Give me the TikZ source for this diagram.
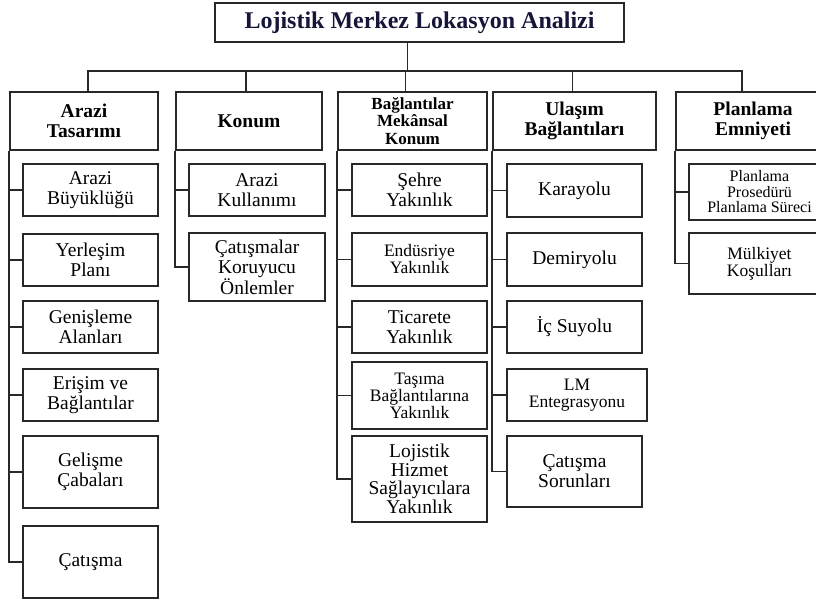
\documentclass[tikz,border=0pt]{standalone}
\usepackage{fontspec}
\setmainfont{Liberation Serif}
\usepackage{xcolor}
\usepackage{tikz}
\usetikzlibrary{calc}

\definecolor{titlenavy}{RGB}{22,22,58}
\definecolor{linegray}{RGB}{40,40,40}

\tikzset{
  titlebox/.style={draw=linegray, line width=1.6pt, inner sep=0pt, align=center,
    text=titlenavy, font=\fontsize{24}{26}\selectfont\bfseries},
  headbox/.style={draw=linegray, line width=1.6pt, inner sep=0pt, align=center,
    minimum height=58pt, font=\fontsize{19.5}{20}\selectfont\bfseries},
  itembox/.style={draw=linegray, line width=1.6pt, inner sep=0pt, align=center,
    minimum width=135pt, font=\fontsize{19.5}{20}\selectfont},
  smallitem/.style={itembox, font=\fontsize{17.5}{17}\selectfont},
  link/.style={draw=linegray, line width=1.5pt}
}

\begin{document}
\begin{tikzpicture}[x=1pt,y=-1pt]

\path[use as bounding box, clip] (0,0) rectangle (816,603);

% Main title
\node[titlebox, minimum width=409pt, minimum height=39pt] (title) at (419.5,22.5) {Lojistik Merkez Lokasyon Analizi};

% Column headers
\node[headbox, minimum width=148pt] (hdA) at (84,121) {Arazi\\Tasarımı};
\node[headbox, minimum width=146pt] (hdB) at (249,121) {Konum};
\node[headbox, minimum width=149pt, font=\fontsize{17}{17.5}\selectfont\bfseries] (hdC) at (412.5,121) {Bağlantılar\\Mekânsal\\Konum};
\node[headbox, minimum width=163pt] (hdD) at (574.5,121) {Ulaşım\\Bağlantıları};
\node[headbox, minimum width=154pt] (hdE) at (753,121) {Planlama\\Emniyeti};

% Bus from title to headers
\coordinate (bus) at (0,71);
\draw[link] ([xshift=-12pt]title.south) -- ([xshift=-12pt]title.south |- bus);
\draw[link] ([xshift=4pt]hdA.north) -- ([xshift=4pt]hdA.north |- bus) -- ([xshift=-11pt]hdE.north |- bus) -- ([xshift=-11pt]hdE.north);
\draw[link] ([xshift=-3pt]hdB.north) -- ([xshift=-3pt]hdB.north |- bus);
\draw[link] ([xshift=-7pt]hdC.north) -- ([xshift=-7pt]hdC.north |- bus);
\draw[link] ([xshift=-2pt]hdD.north) -- ([xshift=-2pt]hdD.north |- bus);

% Arazi Tasarimi items
\node[itembox, minimum height=52pt] (a1) at (90.5,190) {Arazi\\Büyüklüğü};
\node[itembox, minimum height=52pt] (a2) at (90.5,260) {Yerleşim\\Planı};
\node[itembox, minimum height=52pt] (a3) at (90.5,327) {Genişleme\\Alanları};
\node[itembox, minimum height=52pt] (a4) at (90.5,395) {Erişim ve\\Bağlantılar};
\node[itembox, minimum height=72pt] (a5) at (90.5,472) {Gelişme\\Çabaları};
\node[itembox, minimum height=72pt] (a6) at (90.5,562) {Çatışma};

% Konum items
\node[itembox, minimum width=136pt, minimum height=52pt] (b1) at (257,190) {Arazi\\Kullanımı};
\node[itembox, minimum width=136pt, minimum height=68pt] (b2) at (257,267) {Çatışmalar\\Koruyucu\\Önlemler};

% Baglantilar Mekansal Konum items
\node[itembox, minimum height=52pt] (c1) at (419.5,190) {Şehre\\Yakınlık};
\node[smallitem, minimum height=53pt] (c2) at (419.5,259.5) {Endüsriye\\Yakınlık};
\node[itembox, minimum height=52pt] (c3) at (419.5,327) {Ticarete\\Yakınlık};
\node[smallitem, minimum height=67pt] (c4) at (419.5,395.5) {Taşıma\\Bağlantılarına\\Yakınlık};
\node[itembox, minimum height=86pt, font=\fontsize{19.5}{18.5}\selectfont] (c5) at (419.5,479) {Lojistik\\Hizmet\\Sağlayıcılara\\Yakınlık};

% Ulasim Baglantilari items
\node[itembox, minimum height=53pt] (d1) at (574.5,190.5) {Karayolu};
\node[itembox, minimum height=53pt] (d2) at (574.5,259.5) {Demiryolu};
\node[itembox, minimum height=52pt] (d3) at (574.5,327) {İç Suyolu};
\node[smallitem, minimum width=140pt, minimum height=52pt] (d4) at (577,395) {LM\\Entegrasyonu};
\node[itembox, minimum height=71pt] (d5) at (574.5,471.5) {Çatışma\\Sorunları};

% Planlama Emniyeti items
\node[smallitem, minimum width=141pt, minimum height=56pt, font=\fontsize{16}{15.5}\selectfont] (e1) at (759.5,192) {Planlama\\Prosedürü\\Planlama Süreci};
\node[smallitem, minimum width=141pt, minimum height=61pt] (e2) at (759.5,263.5) {Mülkiyet\\Koşulları};

% Branches from headers to items
\foreach \c in {a1,a2,a3,a4,a5,a6}
  \draw[link] (hdA.south west) |- (\c.west);
\foreach \c in {b1,b2}
  \draw[link] (hdB.south west) |- (\c.west);
\foreach \c in {c1,c2,c3,c4,c5}
  \draw[link] (hdC.south west) |- (\c.west);
\foreach \c in {d1,d2,d3,d4,d5}
  \draw[link] (hdD.south west) |- (\c.west);
\foreach \c in {e1,e2}
  \draw[link] (hdE.south west) |- (\c.west);

\end{tikzpicture}
\end{document}
